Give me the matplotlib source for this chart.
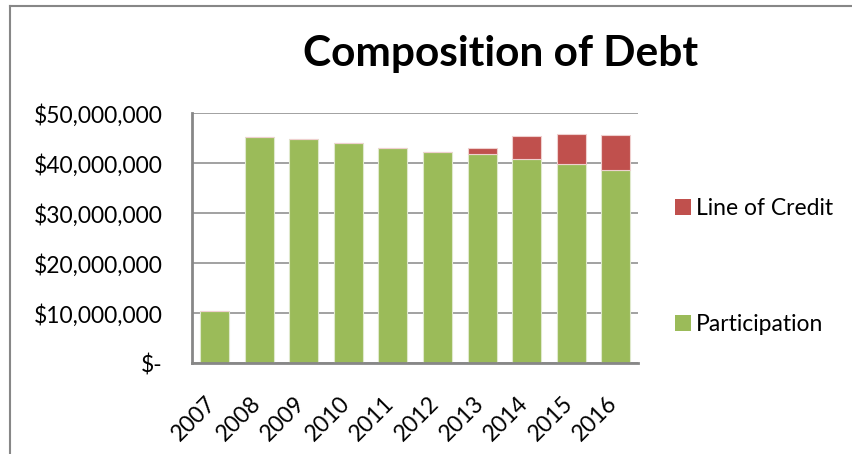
import matplotlib
matplotlib.use("Agg")
import matplotlib.pyplot as plt
import matplotlib.transforms as mtransforms
from matplotlib.patches import Patch
from matplotlib.lines import Line2D
import numpy as np

# debt by year, in dollars
years = ["2007", "2008", "2009", "2010", "2011", "2012", "2013", "2014", "2015", "2016"]
participation = [10.5e6, 45.3e6, 44.8e6, 44.0e6, 43.1e6, 42.2e6, 41.9e6, 40.9e6, 39.8e6, 38.7e6]
line_of_credit = [0, 0, 0, 0, 0, 0, 1.2e6, 4.6e6, 6.0e6, 6.9e6]
y_ticks = [0, 10e6, 20e6, 30e6, 40e6, 50e6]

green = "#9BBB59"
red = "#C0504D"
grey = "#878787"

plt.rcParams["font.family"] = ["Lato", "DejaVu Sans"]

fig = plt.figure(figsize=(8.52, 4.54), dpi=100)
ax = fig.add_axes([0.2257, 0.1998, 0.5233, 0.5506])

x = np.arange(len(years))
ax.bar(x, participation, width=0.65, color=green, edgecolor="#dfe9cc", linewidth=0.8, zorder=3)
ax.bar(x, line_of_credit, width=0.65, bottom=participation, color=red,
       edgecolor="#efd0cf", linewidth=0.8, zorder=3)

ax.set_xlim(-0.5, len(years) - 0.5)
ax.set_ylim(0, 50e6)
ax.set_yticks(y_ticks)
ax.set_yticklabels(["$-" if v == 0 else f"${v:,.0f}" for v in y_ticks], fontsize=16.5)
ax.set_xticks(x)
ax.set_xticklabels(years, rotation=45, ha="right", fontsize=16.5)
ax.tick_params(axis="y", length=0, pad=21.5)
ax.tick_params(axis="x", length=0, pad=21)

# nudge the slanted year labels a little to the right
shift = mtransforms.ScaledTranslation(4 / 72, 0, fig.dpi_scale_trans)
for lbl in ax.get_xticklabels():
    lbl.set_transform(lbl.get_transform() + shift)

ax.grid(axis="y", color=grey, linewidth=1.1, zorder=0)
for s in ["top", "right"]:
    ax.spines[s].set_visible(False)
for s in ["left", "bottom"]:
    ax.spines[s].set_color(grey)
    ax.spines[s].set_linewidth(2.0)
    ax.spines[s].set_zorder(4)

fig.text(0.588, 0.88, "Composition of Debt", ha="center", va="center",
         fontsize=30.5, fontweight="bold")

handles = [Patch(facecolor=red, edgecolor="none"), Patch(facecolor=green, edgecolor="none")]
fig.legend(handles, ["Line of Credit", "Participation"], loc="center left",
           bbox_to_anchor=(0.782, 0.413), frameon=False, fontsize=16.5,
           handlelength=0.66, handleheight=0.66, handletextpad=0.22,
           labelspacing=4.13, borderaxespad=0)

# chart frame
fig.add_artist(Line2D([0.0123, 1.0], [0.987, 0.987], color=grey, linewidth=1.5))
fig.add_artist(Line2D([0.0123, 0.0123], [0.0, 0.987], color=grey, linewidth=1.5))

fig.savefig("out.png", dpi=100)
